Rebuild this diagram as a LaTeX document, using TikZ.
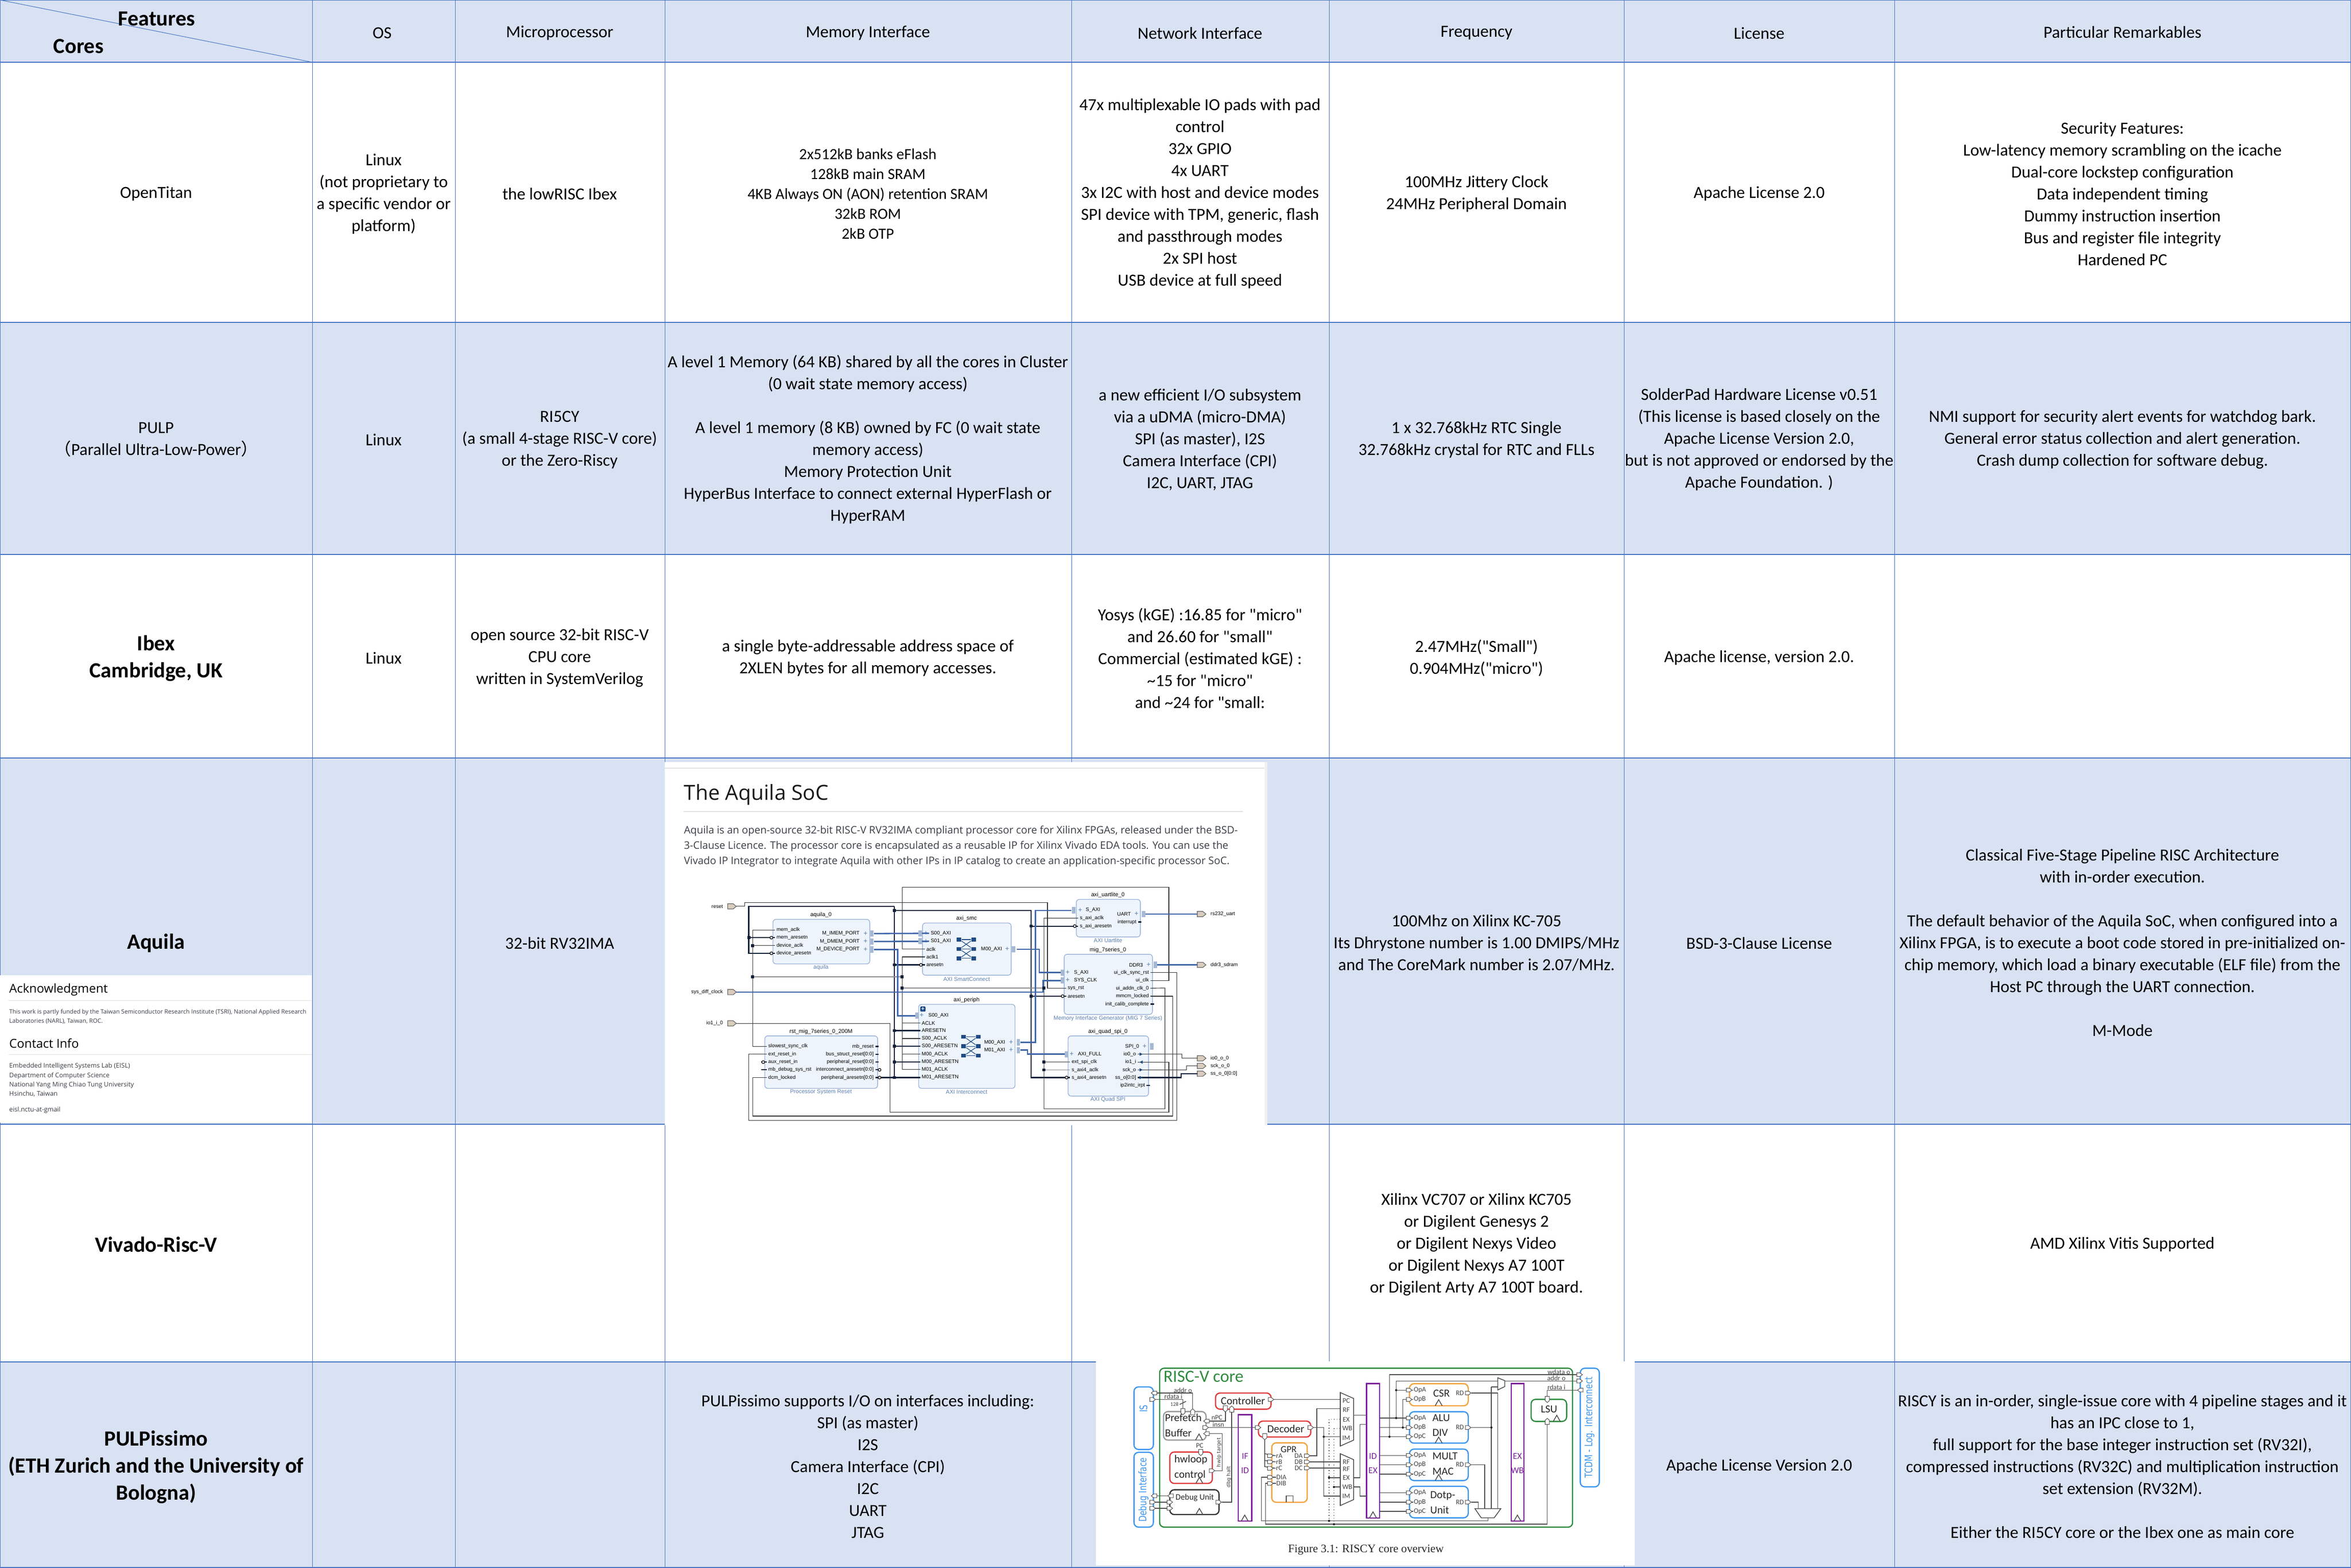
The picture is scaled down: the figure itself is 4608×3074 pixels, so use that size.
\documentclass[tikz,border=0pt]{standalone}
\usepackage{fontspec}
\setmainfont{Carlito}
\newfontfamily\qfont{Carlito}
\newfontfamily\webfont{Open Sans}
\newfontfamily\cjk{Noto Sans CJK SC}
\newfontfamily\dvfont{DejaVu Sans}
\newfontfamily\capfont{Liberation Serif}
\newfontfamily\pinfont{Liberation Sans}
\newcommand{\sq}{{\qfont"}}
\usepackage{tikz}
\definecolor{tabfill}{HTML}{D9E2F3}
\definecolor{tabline}{HTML}{4472C4}
\definecolor{blkfill}{HTML}{EDF4FB}
\definecolor{blkline}{HTML}{9DB3DA}
\definecolor{blkblue}{HTML}{5B7FB0}
\definecolor{busblue}{HTML}{3F66A8}
\definecolor{iconblue}{HTML}{1F4A85}
\definecolor{thkblack}{HTML}{10203A}
\definecolor{porttan}{HTML}{D9CCBE}
\definecolor{webgrey}{HTML}{3A3F45}
\definecolor{coregreen}{HTML}{2E8B3E}
\definecolor{coreblue}{HTML}{3C96F0}
\definecolor{corered}{HTML}{E0383A}
\definecolor{coreorange}{HTML}{F5A23C}
\definecolor{corepurple}{HTML}{7B1F9B}
\tikzset{
  cell/.style={align=center, inner sep=0pt, yshift=-0.75pt, font=\fontsize{8.3}{10.75}\selectfont},
  smallcell/.style={align=center, inner sep=0pt, yshift=-0.75pt, font=\fontsize{7.6}{9.8}\selectfont},
  corename/.style={align=center, inner sep=0pt, yshift=-0.75pt, font=\fontsize{10.6}{13.2}\selectfont\bfseries},
  pinl/.style={anchor=west, inner sep=0.6pt, font=\pinfont\fontsize{2.5}{3}\selectfont},
  pinr/.style={anchor=east, inner sep=0.6pt, font=\pinfont\fontsize{2.5}{3}\selectfont},
  blktitle/.style={inner sep=0pt, font=\pinfont\fontsize{2.75}{3.3}\selectfont},
  blkfoot/.style={inner sep=0pt, text=blkblue, font=\pinfont\fontsize{2.75}{3.3}\selectfont},
  blk/.style={fill=blkfill, draw=blkline, line width=0.35pt, rounded corners=1.5pt},
  wire/.style={draw=black!80, line width=0.28pt},
  gwire/.style={draw=black!45, line width=0.42pt},
  thk/.style={draw=thkblack, line width=0.55pt},
  buse/.style={draw=busblue, line width=0.7pt},
  extp/.style={fill=porttan, draw=black!60, line width=0.3pt},
  webtext/.style={anchor=west, align=left, inner sep=0pt, text=webgrey},
  rl/.style={inner sep=0pt, text=black!75, font=\fontsize{3.4}{3.4}\selectfont},
  rll/.style={rl, anchor=west},
  rblk/.style={rounded corners=2.2pt, line width=0.6pt},
  rtxt/.style={inner sep=0pt, align=left, text=black!85, font=\fontsize{5.3}{7.4}\selectfont},
  rside/.style={inner sep=0pt, text=coreblue, rotate=90, font=\dvfont\fontsize{3.9}{5}\selectfont},
  rwire/.style={draw=black!70, line width=0.38pt},
  rport/.style={fill=white, draw=black!70, line width=0.25pt},
}
\begin{document}
\begin{tikzpicture}[x=0.25pt, y=-0.25pt]
\useasboundingbox (0,0) rectangle (4608,3074);
% table
\fill[white] (0,0) rectangle (4608,3074);
\foreach \ya/\yb in {0/122, 632/1087, 1486/2204, 2670/3074}
  \fill[tabfill] (0,\ya) rectangle (4608,\yb);
\foreach \x in {612,892,1303,2100,2605,3183,3713}
  \draw[tabline, line width=0.25pt] (\x,0) -- (\x,3074);
\foreach \y in {122,632,1087,1486,2204,2670}
  \draw[tabline, line width=0.35pt] (0,\y) -- (4608,\y);
\draw[tabline, line width=0.5pt] (0,0) rectangle (4608,3073);
\draw[tabline, line width=0.25pt] (0,0) -- (612,122);

% header
\node[corename] (features) at (307,34) {Features};
\node[corename] (cores) at (154,88) {Cores};
\node[cell] (hos) at (749,62) {OS};
\node[cell] (hcpu) at (1097,62) {Microprocessor};
\node[cell] (hmem) at (1701,62) {Memory Interface};
\node[cell] (hnet) at (2352,62) {Network Interface};
\node[cell] (hfreq) at (2894,62) {Frequency};
\node[cell] (hlic) at (3448,62) {License};
\node[cell] (hrem) at (4160,60) {Particular Remarkables};

% OpenTitan
\node[cell] (otname) at (306,377) {OpenTitan};
\node[cell] (otos) at (752,377) {Linux\\(not proprietary to\\a specific vendor or\\platform)};
\node[cell] (otcpu) at (1097,377) {the lowRISC Ibex};
\node[smallcell] (otmem) at (1701,377) {2x512kB banks eFlash\\128kB main SRAM\\4KB Always ON (AON) retention SRAM\\32kB ROM\\2kB OTP};
\node[cell] (otnet) at (2352,377) {47x multiplexable IO pads with pad\\control\\32x GPIO\\4x UART\\3x I2C with host and device modes\\SPI device with TPM, generic, flash\\and passthrough modes\\2x SPI host\\USB device at full speed};
\node[cell] (otfreq) at (2894,377) {100MHz Jittery Clock\\24MHz Peripheral Domain};
\node[cell] (otlic) at (3448,377) {Apache License 2.0};
\node[cell] (otrem) at (4160,377) {Security Features:\\Low-latency memory scrambling on the icache\\Dual-core lockstep configuration\\Data independent timing\\Dummy instruction insertion\\Bus and register file integrity\\Hardened PC};

% PULP
\node[cell] (puname) at (306,859) {PULP\\{\cjk （}Parallel Ultra-Low-Power{\cjk ）}};
\node[cell] (puos) at (752,859) {Linux};
\node[cell] (pucpu) at (1097,859) {RI5CY\\(a small 4-stage RISC-V core)\\or the Zero-Riscy};
\node[cell] (pumem) at (1701,859) {A level 1 Memory (64 KB) shared by all the cores in Cluster\\(0 wait state memory access)\\[10.75pt]A level 1 memory (8 KB) owned by FC (0 wait state\\memory access)\\Memory Protection Unit\\HyperBus Interface to connect external HyperFlash or\\HyperRAM};
\node[cell] (punet) at (2352,859) {a new efficient I/O subsystem\\via a uDMA (micro-DMA)\\SPI (as master), I2S\\Camera Interface (CPI)\\I2C, UART, JTAG};
\node[cell] (pufreq) at (2894,859) {1 x 32.768kHz RTC Single\\32.768kHz crystal for RTC and FLLs};
\node[cell] (pulic) at (3448,859) {SolderPad Hardware License v0.51\\(This license is based closely on the\\Apache License Version 2.0,\\but is not approved or endorsed by the\\Apache Foundation. )};
\node[cell] (purem) at (4160,859) {NMI support for security alert events for watchdog bark.\\General error status collection and alert generation.\\Crash dump collection for software debug.};

% Ibex
\node[corename] (ibname) at (306,1288) {Ibex\\Cambridge, UK};
\node[cell] (ibos) at (752,1287) {Linux};
\node[cell] (ibcpu) at (1097,1287) {open source 32-bit RISC-V\\CPU core\\written in SystemVerilog};
\node[cell] (ibmem) at (1701,1287) {a single byte-addressable address space of\\2XLEN bytes for all memory accesses.};
\node[cell] (ibnet) at (2352,1287) {Yosys (kGE) :16.85 for \sq micro\sq\\and 26.60 for \sq small\sq\\Commercial (estimated kGE) :\\\textasciitilde15 for \sq micro\sq\\and \textasciitilde24 for \sq small:};
\node[cell] (ibfreq) at (2894,1287) {2.47MHz(\sq Small\sq)\\0.904MHz(\sq micro\sq)};
\node[cell] (iblic) at (3448,1287) {Apache license, version 2.0.};

% Aquila
\node[corename] (aqname) at (306,1846) {Aquila};
\node[cell] (aqcpu) at (1097,1846) {32-bit RV32IMA};
\node[cell] (aqfreq) at (2894,1846) {100Mhz on Xilinx KC-705\\Its Dhrystone number is 1.00 DMIPS/MHz\\and The CoreMark number is 2.07/MHz.};
\node[cell] (aqlic) at (3448,1846) {BSD-3-Clause License};
\node[cell] (aqrem) at (4160,1845) {Classical Five-Stage Pipeline RISC Architecture\\with in-order execution.\\[10.75pt]The default behavior of the Aquila SoC, when configured into a\\Xilinx FPGA, is to execute a boot code stored in pre-initialized on-\\chip memory, which load a binary executable (ELF file) from the\\Host PC through the UART connection.\\[10.75pt]M-Mode};

% Vivado
\node[corename] (viname) at (306,2437) {Vivado-Risc-V};
\node[cell] (vifreq) at (2894,2437) {Xilinx VC707 or Xilinx KC705\\or Digilent Genesys 2\\or Digilent Nexys Video\\or Digilent Nexys A7 100T\\or Digilent Arty A7 100T board.};
\node[cell] (virem) at (4160,2437) {AMD Xilinx Vitis Supported};

% PULPissimo
\node[corename] (ppname) at (306,2873) {PULPissimo\\(ETH Zurich and the University of\\Bologna)};
\node[cell] (ppmem) at (1701,2872) {PULPissimo supports I/O on interfaces including:\\SPI (as master)\\I2S\\Camera Interface (CPI)\\I2C\\UART\\JTAG};
\node[cell] (pplic) at (3448,2872) {Apache License Version 2.0};
\node[cell] (pprem) at (4160,2872) {RISCY is an in-order, single-issue core with 4 pipeline stages and it\\has an IPC close to 1,\\full support for the base integer instruction set (RV32I),\\compressed instructions (RV32C) and multiplication instruction\\set extension (RV32M).\\[10.75pt]Either the RI5CY core or the Ibex one as main core};

% acknowledgment panel
\fill[white] (0,1912) rectangle (611,2201);
\begin{scope}[shift={(0,1900)}, x=0.0989pt, y=-0.0833pt]
\node[webtext, text=black, font=\webfont\fontsize{6}{7}\selectfont] (ackhead) at (44,120) {Acknowledgment};
\draw[black!12, line width=0.3pt] (44,185) -- (1545,185);
\node[webtext, font=\webfont\fontsize{2.9}{4.6}\selectfont] (acktext) at (44,279) {This work is partly funded by the Taiwan Semiconductor Research Institute (TSRI), National Applied Research\\Laboratories (NARL), Taiwan, ROC.};
\node[webtext, text=black, font=\webfont\fontsize{6}{7}\selectfont] (conthead) at (44,437) {Contact Info};
\draw[black!12, line width=0.3pt] (44,502) -- (1545,502);
\node[webtext, font=\webfont\fontsize{3.15}{4.6}\selectfont] (conttext) at (44,652) {Embedded Intelligent Systems Lab (EISL)\\Department of Computer Science\\National Yang Ming Chiao Tung University\\Hsinchu, Taiwan};
\node[webtext, font=\webfont\fontsize{3.15}{4.6}\selectfont] (contmail) at (44,828) {eisl.nctu-at-gmail};
\end{scope}

% Aquila SoC panel
\fill[white] (1303,1494) rectangle (2479,2206);
\fill[black!6] (2479,1494) rectangle (2484,2206);
\begin{scope}[shift={(1300,1480)}, x=0.1913pt, y=-0.118pt]
\draw[black!12, line width=0.3pt] (4,55) -- (1540,55);
\node[webtext, text=black!90, font=\webfont\fontsize{10.2}{11}\selectfont] (soctitle) at (52,165) {The Aquila SoC};
\draw[black!12, line width=0.4pt] (52,235) -- (1484,235);
\node[webtext, font=\webfont\fontsize{5.07}{7.55}\selectfont] (soctext) at (52,380) {Aquila is an open-source 32-bit RISC-V RV32IMA compliant processor core for Xilinx FPGAs, released under the BSD-\\3-Clause Licence. The processor core is encapsulated as a reusable IP for Xilinx Vivado EDA tools. You can use the\\Vivado IP Integrator to integrate Aquila with other IPs in IP catalog to create an application-specific processor SoC.};
% blocks
\foreach \xa/\ya/\xb/\yb in {281/683/529/868, 664/698/891/915, 1058/600/1222/756, 1027/828/1253/1078, 654/1036/901/1385, 260/1167/549/1385, 1037/1167/1243/1417}
  \draw[blk] (\xa,\ya) rectangle (\xb,\yb);
\foreach \n/\x/\y/\t in {taq/404/665/aquila\_0, tsmc/777/680/axi\_smc, tua/1139/581/axi\_uartlite\_0, tmig/1139/810/mig\_7series\_0, tper/777/1019/axi\_periph, trst/404/1149/rst\_mig\_7series\_0\_200M, tspi/1139/1149/axi\_quad\_spi\_0}
  \node[blktitle] (\n) at (\x,\y) {\t};
\foreach \n/\x/\y/\t in {faq/404/883/aquila, fsmc/777/931/AXI SmartConnect, fua/1139/771/AXI Uartlite, fmig/1139/1094/Memory Interface Generator (MIG 7 Series), fper/777/1400/AXI Interconnect, frst/404/1400/Processor System Reset, fspi/1139/1432/AXI Quad SPI}
  \node[blkfoot] (\n) at (\x,\y) {\t};
% pins
\foreach \n/\x/\y/\t in {memclk/286/727/mem\_aclk, memrst/286/759/mem\_aresetn, devclk/286/792/device\_aclk, devrst/286/824/device\_aresetn,
  smcs0/681/741/S00\_AXI, smcs1/681/774/S01\_AXI, smcclk/670/807/aclk, smcclk1/670/839/aclk1, smcrst/670/872/aresetn,
  uaaxi/1078/645/S\_AXI, uaclk/1063/678/s\_axi\_aclk, uarst/1063/711/s\_axi\_aresetn,
  migaxi/1048/904/S\_AXI, migsys/1048/936/SYS\_CLK, migsr/1032/969/sys\_rst, migrst/1032/1002/aresetn,
  pers0/675/1082/S00\_AXI, perclk/658/1114/ACLK, perrst/658/1145/ARESETN, pers0c/658/1178/S00\_ACLK, pers0r/658/1210/S00\_ARESETN, perm0c/658/1243/M00\_ACLK, perm0r/658/1276/M00\_ARESETN, perm1c/658/1307/M01\_ACLK, perm1r/658/1340/M01\_ARESETN,
  rstslow/265/1210/slowest\_sync\_clk, rstext/265/1243/ext\_reset\_in, rstaux/265/1276/aux\_reset\_in, rstdbg/265/1308/mb\_debug\_sys\_rst, rstdcm/265/1340/dcm\_locked,
  spifull/1058/1243/AXI\_FULL, spiclk/1042/1276/ext\_spi\_clk, spiaclk/1042/1308/s\_axi4\_aclk, spirst/1042/1340/s\_axi4\_aresetn}
  \node[pinl] (\n) at (\x,\y) {\t};
\foreach \n/\x/\y/\t in {aqim/507/742/M\_IMEM\_PORT, aqdm/507/775/M\_DMEM\_PORT, aqdv/507/808/M\_DEVICE\_PORT,
  smcm0/872/807/M00\_AXI, uauart/1202/661/UART, uaint/1216/694/interrupt,
  migddr/1233/872/DDR3, migur/1248/904/ui\_clk\_sync\_rst, miguc/1248/937/ui\_clk, migua/1248/969/ui\_addn\_clk\_0, migml/1248/1002/mmcm\_locked, migic/1248/1035/init\_calib\_complete,
  perm0/880/1194/M00\_AXI, perm1/880/1226/M01\_AXI,
  rstmb/543/1211/mb\_reset, rstbus/543/1243/bus\_struct\_reset[0:0], rstper/543/1276/peripheral\_reset[0:0], rstint/543/1308/interconnect\_aresetn[0:0], rstpa/543/1340/peripheral\_aresetn[0:0],
  spi0/1223/1211/SPI\_0, spio0/1215/1243/io0\_o, spii1/1215/1276/io1\_i, spisck/1215/1308/sck\_o, spiss/1215/1340/ss\_o[0:0], spiirq/1238/1373/ip2intc\_irpt}
  \node[pinr] (\n) at (\x,\y) {\t};
\foreach \x/\y in {518/742,518/775,518/808,673/741,673/774,881/807,1068/645,1212/661,1036/904,1036/936,1243/872,662/1082,891/1194,891/1226,1046/1243,1233/1211}
  \node[inner sep=0pt, text=blkblue, font=\fontsize{3.6}{3.6}\selectfont] at (\x,\y) {+};
% ports outside
\foreach \n/\t/\y in {preset/reset/629, pclock/sys\_diff\_clock/985, pio/io1\_i\_0/1115} {
  \draw[extp] (165,\y-11) -- (179,\y-11) -- (187,\y) -- (179,\y+11) -- (165,\y+11) -- cycle;
  \coordinate (\n) at (187,\y);
  \node[pinr] (\n t) at (157,\y) {\t};
}
\foreach \n/\t/\y in {puart/rs232\_uart/661, pddr/ddr3\_sdram/872, pio0/io0\_o\_0/1260, psck/sck\_o\_0/1292, pss/ss\_o\_0[0:0]/1324} {
  \draw[extp] (1368,\y-11) -- (1382,\y-11) -- (1390,\y) -- (1382,\y+11) -- (1368,\y+11) -- cycle;
  \coordinate (\n) at (1368,\y);
  \node[pinl] (\n t) at (1398,\y) {\t};
}
% wires
\draw[wire] (preset) -- (208,629) -- (208,613) -- (984,613) -- (984,969) -- (migsr.west);
\draw[thk] (592,630) -- (219,630) -- (219,824) -- (devrst.west);
\draw[thk] (219,759) -- (memrst.west);
\draw[thk] (592,630) -- (592,1340);
\draw[thk] (592,646) -- (942,646) -- (942,1340) -- (spirst.west);
\draw[thk] (942,711) -- (uarst.west);
\draw[thk] (942,1002) -- (migrst.west);
\draw[thk] (592,872) -- (smcrst.west);
\draw[thk] (592,1145) -- (perrst.west);
\draw[thk] (592,1210) -- (pers0r.west);
\draw[thk] (592,1276) -- (perm0r.west);
\draw[thk] (rstpa.east) -- (perm1r.west);
\draw[wire] (memclk.west) -- (229,727) -- (229,1210) -- (rstslow.west);
\draw[wire] (229,792) -- (devclk.west);
\draw[gwire] (229,921) -- (612,921);
\draw[wire] (612,807) -- (612,549) -- (1295,549) -- (1295,937) -- (miguc.east);
\draw[wire] (612,807) -- (smcclk.west);
\draw[wire] (smcclk1.west) -- (612,839) -- (612,1307) -- (perm1c.west);
\draw[gwire] (612,968) -- (975,968);
\draw[wire] (612,1114) -- (perclk.west);
\draw[wire] (612,1178) -- (pers0c.west);
\draw[wire] (612,1243) -- (perm0c.west);
\draw[wire] (uaclk.west) -- (975,678) -- (975,1470) -- (1285,1470) -- (1285,968) -- (migua.east);
\draw[gwire] (975,1276) -- (spiclk.west);
\draw[gwire] (975,1308) -- (spiaclk.west);
\draw[wire] (pio) -- (581,1115) -- (581,1485) -- (1295,1485) -- (1295,1276) -- (spii1.east);
\draw[wire] (migur.east) -- (1315,904) -- (1315,1518) -- (219,1518) -- (219,1243) -- (rstext.west);
\draw[wire] (migml.east) -- (1305,1002) -- (1305,1500) -- (229,1500) -- (229,1340) -- (rstdcm.west);
\draw[wire] (spio0.east) -- (1328,1243) -- (1328,1260) -- (pio0);
\draw[wire] (spisck.east) -- (1340,1308) -- (1340,1292) -- (psck);
\draw[thk] (spiss.east) -- (1326,1340) -- (1326,1324) -- (pss);
\draw[thk] (rstaux.west) -- ++(-14,0);
\draw[thk] (rstdbg.west) -- ++(-14,0);
\foreach \a in {uaint,migic,rstmb,rstbus,rstper,rstint,spiirq}
  \draw[thk] (\a.east) -- ++(9,0);
% buses
\draw[buse] (aqim.east) ++(33,0) -- (smcs0.west);
\draw[buse] (aqdm.east) ++(33,0) -- (smcs1.west);
\draw[buse] (aqdv.east) ++(33,0) -- (600,808) -- (600,1083) -- (645,1083);
\draw[buse] (905,807) -- (963,807) -- (963,904) -- (1018,904);
\draw[buse] (pclock) -- (973,985) -- (973,937) -- (1018,937);
\draw[buse] (915,1194) -- (953,1194) -- (953,646) -- (1045,646);
\draw[buse] (915,1226) -- (933,1226) -- (933,1243) -- (1030,1243);
\draw[buse] (1235,661) -- (puart);
\draw[buse] (1265,872) -- (pddr);
% bus ends
\foreach \x/\y in {530/742,530/775,530/808,654/741,654/774,893/807,1047/645,1018/904,1018/937,645/1082,905/1194,905/1226,1028/1243,1226/661,1256/872,1247/1211}
  \fill[blkblue!55] (\x,\y-13) rectangle (\x+9,\y+13);
% small bubbles and dots
\foreach \x/\y in {277/759,277/824,660/872,1054/711,1023/1002,1033/1340,256/1276,554/1308,554/1340}
  \draw[fill=white, line width=0.3pt] (\x,\y) circle (0.7pt);
\foreach \x/\y in {219/759,229/792,229/921,592/646,592/872,592/1145,592/1210,592/1276,592/1340,612/921,612/968,942/711,942/1002,975/968,975/1276,975/1308}
  \fill[thkblack] (\x-4,\y-6) rectangle (\x+4,\y+6);
\foreach \x/\y in {1224/1243,1224/1308,1224/1340}
  \fill[iconblue] (\x-4,\y-7) -- (\x+4,\y) -- (\x-4,\y+7) -- cycle;
\fill[iconblue] (1228,1269) -- (1220,1276) -- (1228,1283) -- cycle;
% crossbar icons
\foreach \cx/\cy in {776/806, 788/1210} {
  \draw[iconblue, line width=0.3pt] (\cx-12,\cy-39) -- (\cx+12,\cy-39);
  \draw[iconblue, line width=0.3pt] (\cx-12,\cy) -- (\cx+12,\cy);
  \draw[iconblue, line width=0.3pt] (\cx-12,\cy+39) -- (\cx+12,\cy+39);
  \draw[iconblue, line width=0.3pt] (\cx-12,\cy-33) -- (\cx+12,\cy-6) (\cx+12,\cy-33) -- (\cx-12,\cy-6);
  \draw[iconblue, line width=0.3pt] (\cx-12,\cy+6) -- (\cx+12,\cy+33) (\cx+12,\cy+6) -- (\cx-12,\cy+33);
  \foreach \dx/\dy in {-19/-39,19/-39,-19/0,19/0,-19/39,19/39}
    \fill[iconblue] (\cx+\dx-6,\cy+\dy-8) rectangle (\cx+\dx+6,\cy+\dy+8);
}
\fill[iconblue, rounded corners=0.4pt] (658,1045) rectangle (672,1066);
\node[inner sep=0pt, text=white, font=\fontsize{3}{3}\selectfont\bfseries] at (665,1055) {+};
\end{scope}

% RISCY panel
\fill[white] (2148,2669) rectangle (3204,3069);
\begin{scope}[shift={(2140,2650)}, x=0.1722pt, y=-0.0833pt]
% frames
\draw[rblk, draw=coregreen] (193,97) rectangle (1368,1032);
\foreach \xa/\ya/\xb/\yb in {120/207/175/575, 120/592/175/1032, 1390/97/1444/795, 904/353/1071/538, 904/573/1071/758, 904/792/1071/977}
  \draw[rblk, draw=coreblue] (\xa,\ya) rectangle (\xb,\yb);
\foreach \xa/\ya/\xb/\yb in {352/243/510/338, 222/590/343/775, 474/408/623/502}
  \draw[rblk, draw=corered] (\xa,\ya) rectangle (\xb,\yb);
\foreach \xa/\ya/\xb/\yb in {512/536/613/886, 904/188/1071/318}
  \draw[rblk, draw=coreorange] (\xa,\ya) rectangle (\xb,\yb);
\draw[rblk, draw=black!40] (204,352) rectangle (325,520);
\draw[rblk, draw=black!80] (222,812) rectangle (362,958);
\draw[rblk, draw=coregreen] (1250,280) rectangle (1351,410);
\foreach \xa/\ya/\xb/\yb in {417/370/455/997, 782/187/819/978, 1193/187/1230/997}
  \draw[draw=corepurple, line width=0.6pt] (\xa,\ya) rectangle (\xb,\yb);
% muxes
\draw[rwire] (707,240) -- (745,275) -- (745,520) -- (707,555) -- cycle;
\draw[rwire] (707,600) -- (745,635) -- (745,870) -- (707,905) -- cycle;
\draw[rwire, fill=white] (1155,153) -- (1175,170) -- (1175,205) -- (1155,225) -- cycle;
\draw[rwire, fill=white] (1090,923) -- (1164,923) -- (1145,977) -- (1108,977) -- cycle;
% block texts
\node[inner sep=0pt, text=coregreen, font=\fontsize{8.4}{9}\selectfont] (coretitle) at (318,145) {RISC-V core};
\node[rside] (istext) at (147,335) {\scalebox{1}[1.3]{IS}};
\node[rside] (dbgif) at (147,812) {\scalebox{1}[1.3]{Debug Interface}};
\node[rside] (tcdm) at (1416,445) {\scalebox{1}[1.3]{TCDM - Log. Interconnect}};
\node[rtxt, anchor=west] (prefetch) at (207,433) {Prefetch\\Buffer};
\node[rtxt] (controller) at (430,290) {Controller};
\node[rtxt, anchor=west] (hwloop) at (234,675) {hwloop\\control};
\node[rtxt, font=\fontsize{4.1}{5}\selectfont] (debug) at (293,860) {Debug Unit};
\node[rtxt] (decoder) at (552,455) {Decoder};
\node[rtxt, font=\fontsize{4.6}{5}\selectfont] (gpr) at (560,575) {GPR};
\node[rtxt] (csr) at (995,245) {CSR};
\node[rtxt, anchor=west] (alu) at (968,433) {ALU\\DIV};
\node[rtxt, anchor=west] (mult) at (968,660) {MULT\\MAC};
\node[rtxt, anchor=west] (dotp) at (962,887) {Dotp-\\Unit};
\node[rtxt] (lsu) at (1301,337) {LSU};
\node[rtxt, text=corepurple, align=center, font=\fontsize{4.4}{7}\selectfont] (ifid) at (436,658) {IF\\ID};
\node[rtxt, text=corepurple, align=center, font=\fontsize{4.4}{7}\selectfont] (idex) at (800,658) {ID\\EX};
\node[rtxt, text=corepurple, align=center, font=\fontsize{4.4}{7}\selectfont] (exwb) at (1211,658) {EX\\WB};
% port labels
\foreach \n/\x/\y/\t in {oaddr/259/228/addr o, ordata/232/264/rdata i, onpc/356/388/nPC, oinsn/360/430/insn, opc/307/552/PC, wdat/1329/118/wdata o, wadr/1322/154/addr o, rdat/1322/208/rdata i,
  mpc/724/289/PC, mrf/724/343/RF, mex/724/398/EX, mwb/727/452/WB, mim/724/508/IM, nrf/724/648/RF, nrg/724/692/RF, nex/724/741/EX, nwb/727/796/WB, nim/724/851/IM}
  \node[rl] (\n) at (\x,\y) {\t};
\node[rl, font=\fontsize{2.6}{3}\selectfont] (obus) at (235,308) {128};
\foreach \n/\x/\y/\t in {gra/523/612/rA, grb/523/648/rB, grc/523/686/rC, gda/524/738/DIA, gdb/524/775/DIB, csa/915/226/OpA, csb/915/281/OpB, ala/915/390/OpA, alb/915/446/OpB, alc/915/500/OpC, mua/915/610/OpA, mub/915/665/OpB, muc/915/720/OpC, doa/915/830/OpA, dob/915/885/OpB, doc/915/940/OpC}
  \node[rll] (\n) at (\x,\y) {\t};
\foreach \n/\y/\t in {gda2/612/DA, gdb2/648/DB, gdc2/684/DC}
  \node[rl, anchor=east] (\n) at (601,\y) {\t};
\foreach \n/\y in {csr/243, alu/446, mul/665, dot/885}
  \node[rl, anchor=east] (\n rd) at (1060,\y) {RD};
\node[rl, rotate=90, font=\dvfont\fontsize{2.5}{3}\selectfont] (ohw) at (362,593) {hwlp target};
\node[rl, rotate=90, font=\dvfont\fontsize{2.5}{3}\selectfont] (odbg) at (390,737) {dbg halt};
% wires
\draw[rwire] (175,243) -- (287,243) -- (287,345);
\draw[rwire] (175,281) -- (259,281) -- (259,335);
\draw[rwire] (250,310) -- (268,292);
\draw[rwire] (330,408) -- (380,408) -- (380,340);
\draw[rwire] (325,446) -- (465,446);
\draw[rwire] (330,482) -- (371,482) -- (371,700) -- (350,700);
\draw[rwire] (370,885) -- (398,885) -- (398,340);
\draw[rwire] (510,281) -- (707,281);
\draw[rwire] (620,612) -- (640,612) -- (640,335) -- (707,335);
\draw[rwire] (630,446) -- (660,446) -- (660,850) -- (707,850);
\draw[rwire] (660,500) -- (707,500);
\draw[rwire] (620,648) -- (707,648);
\draw[rwire] (620,684) -- (707,684);
\draw[rwire, densely dotted] (707,398) -- (675,398) -- (675,995);
\draw[rwire, densely dotted] (707,452) -- (689,452) -- (689,1015);
\draw[rwire] (675,741) -- (707,741);
\draw[rwire] (689,796) -- (707,796);
\draw[rwire] (745,373) -- (782,373);
\draw[rwire] (745,741) -- (763,741) -- (763,428) -- (782,428);
\draw[rwire] (745,796) -- (763,796) -- (763,850) -- (782,850);
\foreach \a in {ala,alb,alc,mua,mub,muc,doa,dob,doc}
  \draw[rwire] (819,0 |- \a.west) -- (\a.west);
\draw[rwire] (866,390) -- (866,172) -- (1155,172);
\draw[rwire] (866,226) -- (csa.west);
\draw[rwire] (885,446) -- (885,281) -- (csb.west);
\draw[rwire] (847,500) -- (847,135) -- (1382,135);
\draw[rwire] (1175,172) -- (1382,172);
\draw[rwire] (1080,446) -- (1137,446) -- (1137,923);
\draw[rwire] (1137,207) -- (1155,207);
\draw[rwire] (1137,207) -- (1137,446);
\draw[rwire] (1080,243) -- (1155,243) -- (1155,923);
\draw[rwire] (1080,665) -- (1118,665) -- (1118,923);
\draw[rwire] (1080,885) -- (1100,885) -- (1100,923);
\draw[rwire] (1127,977) -- (1127,995) -- (483,995) -- (483,738) -- (gda.west);
\draw[rwire] (1296,420) -- (1296,1015) -- (494,1015) -- (494,775) -- (gdb.west);
\draw[rwire] (1382,226) -- (1296,226) -- (1296,265);
\draw[rwire] (492,510) -- (492,600) -- (gra.west);
\draw[rwire] (492,600) -- (492,640) -- (grb.west);
\draw[rwire] (492,640) -- (492,676) -- (grc.west);
\foreach \y in {848,885,921}
  \draw[rwire] (175,\y) -- (222,\y);
% ports
\foreach \x/\y in {165/281,165/885,165/921,214/885,214/921,316/446,502/281,334/700,353/885,465/446,615/446,500/612,500/648,500/686,500/738,500/775,605/612,605/648,605/684,895/226,895/281,895/390,895/446,895/500,895/610,895/665,895/720,895/830,895/885,895/940,1063/243,1063/446,1063/665,1063/885,1380/135,1380/172}
  \draw[rport] (\x,\y-11) -- (\x+9,\y-11) -- (\x+16,\y) -- (\x+9,\y+11) -- (\x,\y+11) -- cycle;
\foreach \x/\y in {185/243,185/848,232/848,334/408,334/482,1398/226}
  \draw[rport] (\x,\y-11) -- (\x-9,\y-11) -- (\x-16,\y) -- (\x-9,\y+11) -- (\x,\y+11) -- cycle;
\foreach \x/\y in {259/335,380/318,310/575,492/482,1296/263}
  \draw[rport] (\x-6,\y) -- (\x+6,\y) -- (\x+6,\y+25) -- (\x,\y+36) -- (\x-6,\y+25) -- cycle;
\foreach \x/\y in {287/372,398/355,1296/428}
  \draw[rport] (\x-6,\y) -- (\x+6,\y) -- (\x+6,\y-25) -- (\x,\y-36) -- (\x-6,\y-25) -- cycle;
% clock marks
\foreach \x/\y in {305/520,306/775,306/958,435/997,800/978,987/318,987/538,987/758,1211/997,1323/410}
  \draw[rwire] (\x-10,\y) -- (\x,\y-36) -- (\x+10,\y);
\draw[rwire] (553,886) -- (553,848) -- (573,848) -- (573,886);
% dots
\foreach \x/\y in {866/226,866/390,885/446,847/500,1137/446,660/500,675/741,689/796,675/995,689/1015}
  \fill[black!85] (\x,\y) circle (0.55pt);
\node[inner sep=0pt, text=black!85, font=\capfont\fontsize{5.6}{6}\selectfont] (figcap) at (780,1166) {Figure 3.1: RISCY core overview};
\end{scope}
\end{tikzpicture}
\end{document}
